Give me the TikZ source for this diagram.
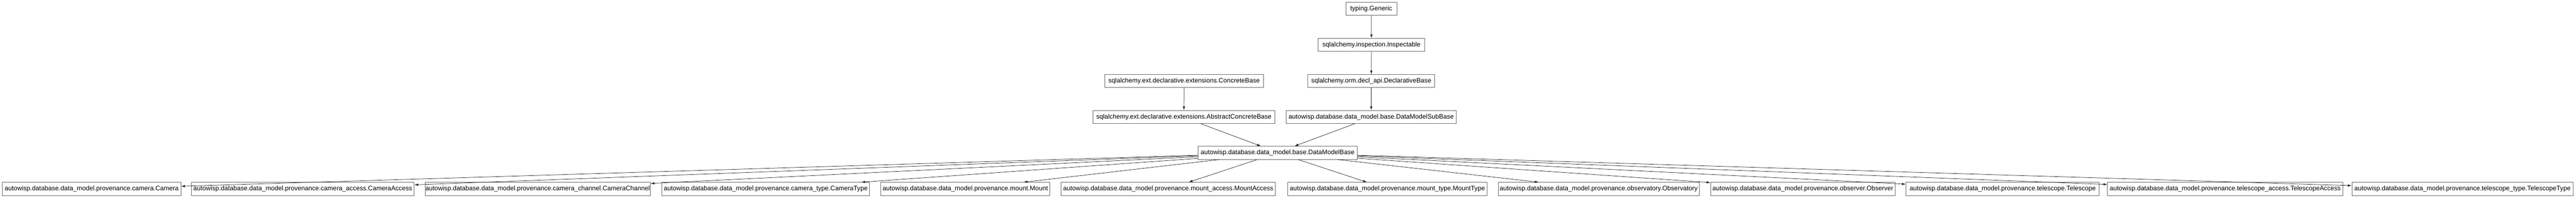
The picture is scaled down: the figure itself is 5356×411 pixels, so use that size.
\documentclass[tikz,border=0pt]{standalone}
\usepackage{fontspec}
\setmainfont{Liberation Sans}
\usetikzlibrary{arrows.meta}
\begin{document}
\begin{tikzpicture}[x=1pt,y=-1pt,
  box/.style={draw=black!60,line width=1pt,minimum height=27pt,inner sep=0pt,font=\fontsize{13.5}{16}\selectfont},
  edge/.style={draw=black!85,line width=0.8pt,-{Latex[length=8pt,width=5pt]}}]
\useasboundingbox (0,0) rectangle (5356,411);
\node[box,minimum width=106] (gen) at (2851,18.5) {typing.Generic};
\node[box,minimum width=221] (insp) at (2851.5,93.5) {sqlalchemy.inspection.Inspectable};
\node[box,minimum width=264] (decl) at (2851,168.5) {sqlalchemy.orm.decl\_api.DeclarativeBase};
\node[box,minimum width=354] (sub) at (2851,243) {autowisp.database.data\_model.base.DataModelSubBase};
\node[box,minimum width=330] (conc) at (2462,168.5) {sqlalchemy.ext.declarative.extensions.ConcreteBase};
\node[box,minimum width=379] (abs) at (2461.5,243) {sqlalchemy.ext.declarative.extensions.AbstractConcreteBase};
\node[box,minimum width=331] (dmb) at (2656.5,317.5) {autowisp.database.data\_model.base.DataModelBase};
\node[box,minimum width=371] (b1) at (190.5,392.5) {autowisp.database.data\_model.provenance.camera.Camera};
\node[box,minimum width=463] (b2) at (629.5,392.5) {autowisp.database.data\_model.provenance.camera\_access.CameraAccess};
\node[box,minimum width=468] (b3) at (1118,392.5) {autowisp.database.data\_model.provenance.camera\_channel.CameraChannel};
\node[box,minimum width=432] (b4) at (1592,392.5) {autowisp.database.data\_model.provenance.camera\_type.CameraType};
\node[box,minimum width=352] (b5) at (2007,392.5) {autowisp.database.data\_model.provenance.mount.Mount};
\node[box,minimum width=446] (b6) at (2429,392.5) {autowisp.database.data\_model.provenance.mount\_access.MountAccess};
\node[box,minimum width=415] (b7) at (2884.5,392.5) {autowisp.database.data\_model.provenance.mount\_type.MountType};
\node[box,minimum width=418] (b8) at (3324,392.5) {autowisp.database.data\_model.provenance.observatory.Observatory};
\node[box,minimum width=383] (b9) at (3748.5,392.5) {autowisp.database.data\_model.provenance.observer.Observer};
\node[box,minimum width=402] (b10) at (4164,392.5) {autowisp.database.data\_model.provenance.telescope.Telescope};
\node[box,minimum width=489] (b11) at (4626.5,392.5) {autowisp.database.data\_model.provenance.telescope\_access.TelescopeAccess};
\node[box,minimum width=460] (b12) at (5120,392.5) {autowisp.database.data\_model.provenance.telescope\_type.TelescopeType};
\draw[edge] (gen) -- (insp);
\draw[edge] (insp) -- (decl);
\draw[edge] (decl) -- (sub);
\draw[edge] (conc) -- (abs);
\draw[edge] ([xshift=35]abs.south) -- ([xshift=-35]dmb.north);
\draw[edge] ([xshift=-34]sub.south) -- ([xshift=35]dmb.north);
\foreach \c in {b1,b2,b3,b4,b5,b6,b7,b8,b9,b10,b11,b12}
  \draw[edge] (dmb) -- (\c);
\end{tikzpicture}
\end{document}
